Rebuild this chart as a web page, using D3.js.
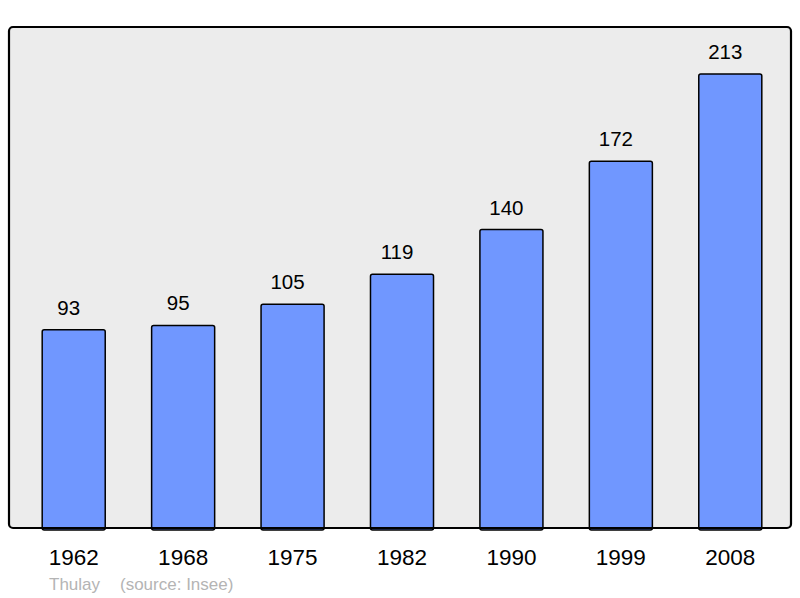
<!DOCTYPE html>
<html>
<head>
<meta charset="utf-8">
<script src="https://cdn.jsdelivr.net/npm/d3@7"></script>
<style>
  body { margin: 0; background: #fff; }
  svg { display: block; font-family: "Liberation Sans", Arial, sans-serif; }
</style>
</head>
<body>
<svg width="800" height="598"></svg>
<script>
// données : population de Thulay (source Insee)
var years = ["1962", "1968", "1975", "1982", "1990", "1999", "2008"];
var population = [93, 95, 105, 119, 140, 172, 213];
var commune = "Thulay";
var source = "(source: Insee)";

var svg = d3.select("svg");

// cadre du graphique
var frame = { left: 9, top: 27, right: 791, bottom: 528 };

var x = d3.scaleBand()
    .domain(years)
    .range([19, 785])
    .paddingInner(0.424)
    .paddingOuter(0.212);

var y = d3.scaleLinear()
    .domain([0, 235])
    .range([frame.bottom, frame.top]);

// fond gris
svg.append("rect")
    .attr("x", frame.left)
    .attr("y", frame.top)
    .attr("width", frame.right - frame.left)
    .attr("height", frame.bottom - frame.top)
    .attr("rx", 4)
    .attr("fill", "#ececec");

// barres
svg.append("g")
    .selectAll("rect")
    .data(population)
    .enter()
    .append("rect")
    .attr("x", function(d, i) { return x(years[i]); })
    .attr("y", function(d) { return y(d); })
    .attr("width", x.bandwidth())
    .attr("height", function(d) { return y(0) - y(d) + 2; })
    .attr("rx", 2)
    .attr("fill", "#7097ff")
    .attr("stroke", "#000")
    .attr("stroke-width", 1.5);

// valeurs au-dessus des barres (légèrement décalées à gauche comme l'original)
svg.append("g")
    .selectAll("text")
    .data(population)
    .enter()
    .append("text")
    .attr("x", function(d, i) { return x(years[i]) + x.bandwidth() / 2 - 5; })
    .attr("y", function(d) { return y(d) - 15; })
    .attr("text-anchor", "middle")
    .attr("font-size", 20.5)
    .attr("fill", "#000")
    .text(function(d) { return d; });

// cadre par-dessus
svg.append("rect")
    .attr("x", frame.left)
    .attr("y", frame.top)
    .attr("width", frame.right - frame.left)
    .attr("height", frame.bottom - frame.top)
    .attr("rx", 4)
    .attr("fill", "none")
    .attr("stroke", "#000")
    .attr("stroke-width", 2.2);

// axe des années
var xAxis = d3.axisBottom(x).tickSize(0).tickPadding(0);
var gx = svg.append("g")
    .attr("transform", "translate(0," + 565 + ")")
    .call(xAxis);
gx.select(".domain").remove();
gx.selectAll("text")
    .attr("dy", 0)
    .attr("font-size", 22.5)
    .attr("font-family", "Liberation Sans, Arial, sans-serif")
    .attr("fill", "#000");

// légende
svg.append("text")
    .attr("x", 49)
    .attr("y", 590)
    .attr("font-size", 17)
    .attr("fill", "#b4b4b4")
    .text(commune);
svg.append("text")
    .attr("x", 120)
    .attr("y", 590)
    .attr("font-size", 17)
    .attr("fill", "#b4b4b4")
    .text(source);
</script>
</body>
</html>
